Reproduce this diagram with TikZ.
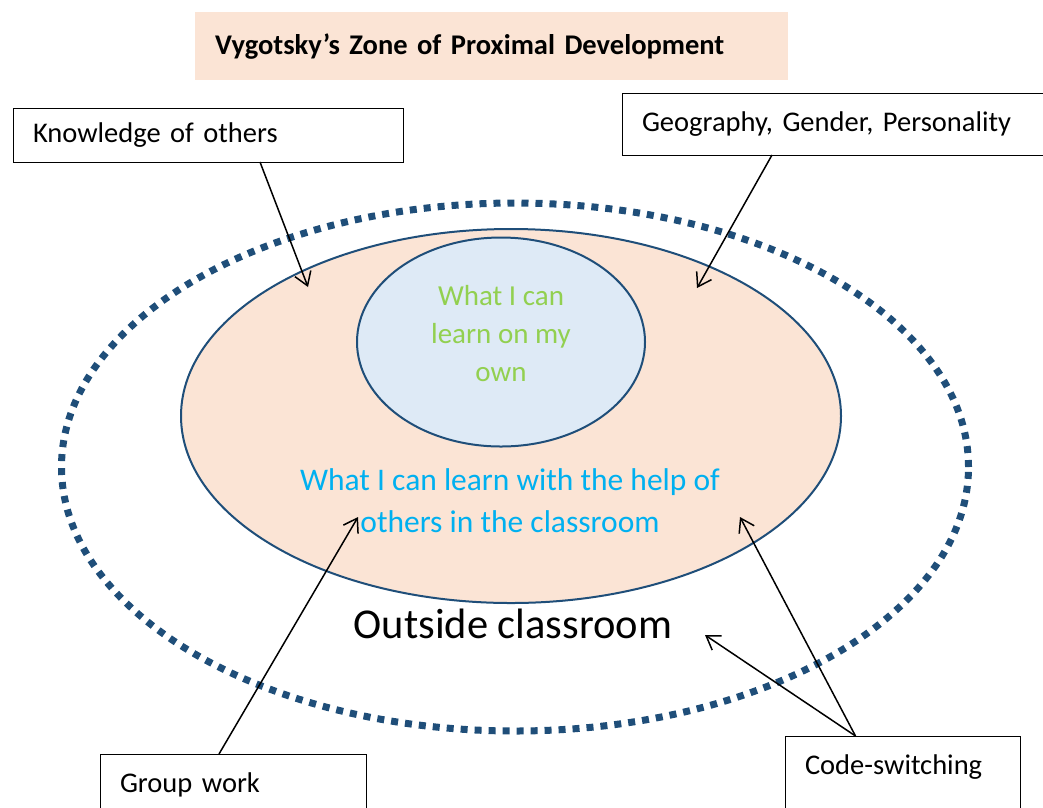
\documentclass[tikz,border=0pt]{standalone}
\usepackage{fontspec}
\setmainfont{Carlito}
\usetikzlibrary{shapes}
\usetikzlibrary{arrows.meta}
\usetikzlibrary{positioning}

\definecolor{zdblue}{RGB}{31,78,121}
\definecolor{zpeach}{RGB}{251,228,213}
\definecolor{zlblue}{RGB}{222,234,246}
\definecolor{zgreen}{RGB}{146,208,80}
\definecolor{zcyan}{RGB}{0,176,240}

\begin{document}
\begin{tikzpicture}[x=1pt, y=-1pt,
  box/.style 2 args={rectangle, draw=black, line width=1pt, anchor=north west, outer sep=0pt,
    inner xsep=20pt, text width=#1, minimum height=#2, align=left, font=\fontsize{28.5}{33}\selectfont},
  zone/.style 2 args={ellipse, draw=zdblue, line width=2pt, fill=#1, minimum width=#2, inner sep=0pt},
  label/.style={align=center, font=\fontsize{29}{38}\selectfont}]
    \tikzset{>={Straight Barb[length=13pt,width=17pt]}}

  \clip (0,0) rectangle (1043,807);
  \useasboundingbox (0,0) rectangle (1043,807);

  %% title
  \node[fill=zpeach, anchor=north west, text width=553pt, inner xsep=20pt, minimum height=68pt,
    font=\bfseries\fontsize{28.5}{33}\selectfont] (title) at (195,12) {Vygotsky’s Zone of Proximal Development};

  %% zones
  \node[ellipse, draw=zdblue, line width=7pt, dash pattern=on 7pt off 7pt,
    minimum width=907pt, minimum height=528pt, inner sep=0pt] (outer) at (515,467) {};
  \node[zone={zpeach}{660pt}, minimum height=374pt] (zpd) at (511,416) {};
  \node[zone={zlblue}{288pt}, minimum height=209pt] (self) at (501,342) {};

  %% zone labels
  \node[label, text=zgreen] (selflabel) at (501,334) {What I can\\learn on my\\own};
  \node[label, text=zcyan, font=\fontsize{31.5}{42}\selectfont] (zpdlabel) at (510,501)
    {What I can learn with the help of\\others in the classroom};
  \node[font=\fontsize{42.5}{50}\selectfont] (outside) at (513,624) {Outside classroom};

  %% boxes
  \node[box={350pt}{54pt}] (knowledge) at (13,108) {Knowledge of others};
  \node[box={386pt}{62pt}] (geography) at (622,93) {Geography, Gender, Personality};
  \node[box={226pt}{62pt}] (groupwork) at (100,754) {Group work};
  \node[box={195pt}{80pt}, text depth=22pt] (codeswitch) at (785,736) {Code-switching};

  %% arrow ends
  \coordinate (kend) at (308,287);
  \coordinate (gend) at (697,288);
  \coordinate (wend) at (358,517);
  \coordinate (cend) at (740,517);
  \coordinate (oend) at (705,635);

  \draw[->, line width=1.5pt] ([xshift=52pt]knowledge.south) -- (kend);
  \draw[->, line width=1.5pt] ([xshift=-63pt]geography.south) -- (gend);
  \draw[->, line width=1.5pt] ([xshift=-14pt]groupwork.north) -- (wend);
  \foreach \tip in {cend,oend}
    \draw[->, line width=1.5pt] ([xshift=-47pt]codeswitch.north) -- (\tip);

\end{tikzpicture}
\end{document}
